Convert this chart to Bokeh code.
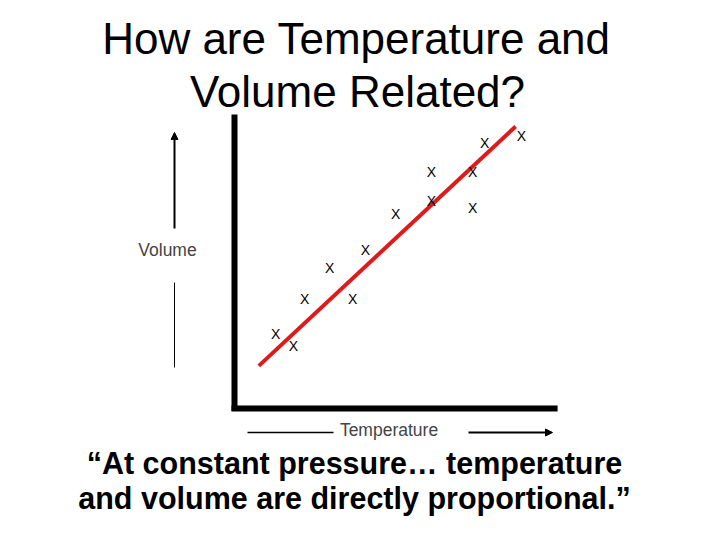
from bokeh.plotting import figure
from bokeh.models import Range1d, Label, Arrow, NormalHead, ColumnDataSource
from bokeh.core.properties import value
from bokeh.embed import file_html
from bokeh.resources import INLINE

# ---- data (arbitrary units) ----
temperature = [1.37, 1.96, 2.34, 3.17, 3.94, 4.36, 5.37, 6.56, 6.56, 7.94, 7.94, 8.34, 9.56]
volume      = [2.47, 2.07, 3.66, 4.67, 3.66, 5.27, 6.47, 7.87, 6.91, 7.87, 6.68, 8.86, 9.08]
marks       = ["X"] * len(temperature)
fit_temperature = [0.81, 9.37]
fit_volume      = [1.42, 9.40]
axis_temperature_max = 10.77
axis_volume_max = 9.8

title_lines = ["How are Temperature and", "Volume Related?"]
caption_lines = ["\u201cAt constant pressure\u2026 temperature",
                 "and volume are directly proportional.\u201d"]
x_label = "Temperature"
y_label = "Volume"

FONT = "Liberation Sans"
W, H = 704, 524
OX, OY = 234, 408   # page pixel of the origin
PX = 30.0           # pixels per unit

p = figure(width=W, height=H, output_backend="svg", toolbar_location=None,
           x_range=Range1d(-OX / PX, (W - OX) / PX),
           y_range=Range1d((OY - H) / PX, OY / PX),
           x_axis_type=None, y_axis_type=None,
           min_border=0, background_fill_color="white", border_fill_color="white")
p.outline_line_color = None
p.grid.visible = False


def at(px, py):
    """layout helper: page pixel -> data coordinates"""
    return (px - OX) / PX, (OY - py) / PX


# thick axes
p.segment(x0=[0, -0.1], y0=[-0.08, 0], x1=[0, axis_temperature_max], y1=[axis_volume_max, 0],
          line_color="black", line_width=6, line_cap="butt")

src = ColumnDataSource(dict(t=temperature, v=volume, m=marks))
p.line(fit_temperature, fit_volume, line_color="#de1a1a", line_width=4)
p.text(x="t", y="v", text="m", source=src, text_font=value(FONT),
       text_font_size="14px", text_align="center", text_baseline="middle",
       text_color="black")

# titles
for line, (px, py) in zip(title_lines, [(356, 37.5), (357, 90.5)]):
    x, y = at(px, py)
    p.add_layout(Label(x=x, y=y, text=line, text_font=FONT, text_font_size="44px",
                       text_align="center", text_baseline="middle", text_color="black"))
for line, (px, py) in zip(caption_lines, [(354, 462), (354, 497)]):
    x, y = at(px, py)
    p.add_layout(Label(x=x, y=y, text=line, text_font=FONT, text_font_size="30.5px",
                       text_font_style="bold", text_align="center",
                       text_baseline="middle", text_color="black"))

x, y = at(167, 249)
p.add_layout(Label(x=x, y=y, text=y_label, text_font=FONT, text_font_size="17.5px",
                   text_align="center", text_baseline="middle"))
x, y = at(388.5, 429)
p.add_layout(Label(x=x, y=y, text=x_label, text_font=FONT, text_font_size="17.5px",
                   text_align="center", text_baseline="middle"))

# arrows beside the labels
x0, y0 = at(174, 228); x1, y1 = at(174, 132)
p.add_layout(Arrow(x_start=x0, y_start=y0, x_end=x1, y_end=y1, line_width=2,
                   end=NormalHead(size=7, fill_color="black", line_color="black")))
x0, y0 = at(174, 282); x1, y1 = at(174, 367)
p.add_layout(Arrow(x_start=x0, y_start=y0, x_end=x1, y_end=y1, line_width=1, end=None))
x0, y0 = at(247, 432); x1, y1 = at(333, 432)
p.add_layout(Arrow(x_start=x0, y_start=y0, x_end=x1, y_end=y1, line_width=1.3, end=None))
x0, y0 = at(468, 432); x1, y1 = at(552, 432)
p.add_layout(Arrow(x_start=x0, y_start=y0, x_end=x1, y_end=y1, line_width=2,
                   end=NormalHead(size=7, fill_color="black", line_color="black")))

open("out.html", "w").write(file_html(p, INLINE))
